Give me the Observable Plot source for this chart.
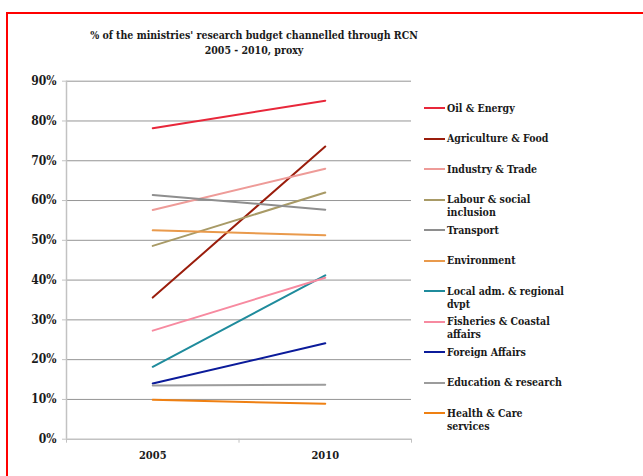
<!DOCTYPE html>
<html>
<head>
<meta charset="utf-8">
<script src="https://cdn.jsdelivr.net/npm/d3@7"></script>
<script src="https://cdn.jsdelivr.net/npm/@observablehq/plot@0.6"></script>
<style>
  html, body { margin: 0; padding: 0; background: #fff; overflow: hidden; }
  #wrap { position: relative; width: 643px; height: 476px; overflow: hidden; font-family: "DejaVu Serif", serif; font-stretch: condensed; font-weight: bold; color: #1a1a1a; }
  #border { position: absolute; left: 6px; top: 11.5px; width: 700px; height: 520px; border-left: 2px solid #f00; border-top: 2px solid #f00; }
  #title { position: absolute; left: 0; top: 27.5px; width: 508px; text-align: center; font-size: 10.5px; line-height: 15.5px; white-space: nowrap; }
  #chart { position: absolute; left: 0; top: 72px; }
  #legend { position: absolute; left: 0; top: 0; }
  .item { position: absolute; left: 424px; font-size: 10.5px; line-height: 13px; width: 200px; white-space: nowrap; }
  .item .sw { position: absolute; left: 0; top: 5.5px; width: 21px; height: 2px; }
  .item .tx { position: absolute; left: 23px; top: 0; }
</style>
</head>
<body>
<div id="wrap">
  <div id="border"></div>
  <div id="title">% of the ministries' research budget channelled through RCN<br>2005 - 2010, proxy</div>
  <div id="chart"></div>
  <div id="legend"></div>
</div>
<script>
const years = [2005, 2010];
const series = ["Oil & Energy", "Agriculture & Food", "Industry & Trade", "Labour & social inclusion", "Transport", "Environment", "Local adm. & regional dvpt", "Fisheries & Coastal affairs", "Foreign Affairs", "Education & research", "Health & Care services"];
const values2005 = [0.782, 0.356, 0.576, 0.486, 0.614, 0.525, 0.182, 0.273, 0.140, 0.135, 0.099];
const values2010 = [0.851, 0.736, 0.680, 0.620, 0.577, 0.513, 0.412, 0.406, 0.241, 0.137, 0.089];
const colors = ["#e8273a", "#9a1d0c", "#ee9b98", "#a89a66", "#8e8e8e", "#e99a4c", "#1f8b9c", "#f78aa0", "#0b1b9a", "#9c9c9c", "#ef8012"];
const legendLabels = ["Oil & Energy", "Agriculture & Food", "Industry & Trade", "Labour & social<br>inclusion", "Transport", "Environment", "Local adm. & regional<br>dvpt", "Fisheries & Coastal<br>affairs", "Foreign Affairs", "Education & research", "Health & Care<br>services"];
const yTicks = [0, 0.1, 0.2, 0.3, 0.4, 0.5, 0.6, 0.7, 0.8, 0.9];
const xDomain = [2002.5, 2012.5];
const xBounds = [2002.5, 2007.5, 2012.5];

const data = [];
series.forEach((s, i) => {
  data.push({series: s, year: years[0], value: values2005[i]});
  data.push({series: s, year: years[1], value: values2010[i]});
});

const font = '"DejaVu Serif", serif';
const chart = Plot.plot({
  width: 643,
  height: 404,
  marginLeft: 66,
  marginRight: 232,
  marginTop: 8.7,
  marginBottom: 37.3,
  style: {fontFamily: font, fontWeight: "bold", fontSize: "11px", fontStretch: "condensed", color: "#1a1a1a", background: "transparent"},
  x: {type: "linear", domain: xDomain},
  y: {domain: [0, 0.9]},
  color: {domain: series, range: colors},
  marks: [
    Plot.gridY(yTicks.filter(d => d > 0), {stroke: "#959595", strokeOpacity: 1, strokeWidth: 1}),
    Plot.ruleY([yTicks[0]], {stroke: "#c2c2c2", strokeWidth: 1.5}),
    Plot.ruleX([xDomain[0]], {stroke: "#c2c2c2", strokeWidth: 1.5}),
    Plot.axisY(yTicks, {tickSize: 4, tickPadding: 6, tickFormat: d3.format(".0%"), stroke: "#c2c2c2", label: null, fontWeight: "bold", fontSize: 12}),
    Plot.axisX(xBounds, {tickSize: 4, tickFormat: () => "", stroke: "#c2c2c2", label: null}),
    Plot.axisX(years, {tickSize: 0, tickPadding: 12, tickFormat: d => String(d), label: null, fontWeight: "bold"}),
    Plot.line(data, {x: "year", y: "value", z: "series", stroke: "series", strokeWidth: 2})
  ]
});
document.getElementById("chart").appendChild(chart);

const legend = document.getElementById("legend");
legendLabels.forEach((lab, i) => {
  const it = document.createElement("div");
  it.className = "item";
  it.style.top = (101.5 + i * 30.5) + "px";
  it.innerHTML = `<div class="sw" style="background:${colors[i]}"></div><div class="tx">${lab}</div>`;
  legend.appendChild(it);
});
</script>
</body>
</html>
